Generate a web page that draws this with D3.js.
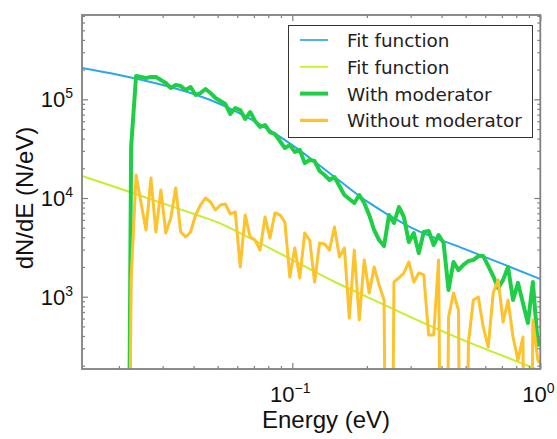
<!DOCTYPE html>
<html><head><meta charset="utf-8">
<script src="https://cdn.jsdelivr.net/npm/d3@7"></script>
<style>body{margin:0;background:#fff}svg{display:block}</style>
</head><body><svg id="c" width="557" height="439"></svg>
<script>
// Energy bins (eV)
const energy = [0.02138,0.02239,0.02344,0.02455,0.02570,0.02692,0.02818,0.02951,0.03090,0.03236,
0.03388,0.03548,0.03715,0.03890,0.04074,0.04266,0.04467,0.04677,0.04898,0.05129,
0.05370,0.05623,0.05888,0.06166,0.06457,0.06761,0.07079,0.07413,0.07762,0.08128,
0.08511,0.08913,0.09333,0.09772,0.1023,0.1072,0.1122,0.1175,0.1230,0.1288,
0.1349,0.1413,0.1479,0.1549,0.1622,0.1698,0.1778,0.1862,0.1950,0.2042,
0.2138,0.2239,0.2344,0.2455,0.2570,0.2692,0.2818,0.2951,0.3090,0.3236,
0.3388,0.3548,0.3715,0.3890,0.4074,0.4266,0.4467,0.4677,0.4898,0.5129,
0.5370,0.5623,0.5888,0.6166,0.6457,0.6761,0.7079,0.7413,0.7762,0.8128,
0.8511,0.8913,0.9333,0.9772,1.023];
// dN/dE with moderator
const withModerator = [0,3.29e4,1.722e5,1.682e5,1.644e5,1.682e5,1.682e5,1.568e5,1.463e5,1.302e5,
1.396e5,1.364e5,1.243e5,1.332e5,1.106e5,1.158e5,1.272e5,1.158e5,1.031e5,9.61e4,
8.96e4,7.10e4,8.16e4,7.79e4,6.32e4,7.43e4,6.03e4,5.24e4,5.49e4,4.66e4,
4.45e4,3.78e4,3.21e4,3.44e4,2.93e4,3.07e4,2.26e4,2.43e4,2.37e4,1.878e4,
1.711e4,1.522e4,1.632e4,1.323e4,1.073e4,9.77e3,8.90e3,1.073e4,8.90e3,6.73e3,
4.74e3,3.75e3,3.26e3,6.73e3,5.58e3,8.11e3,6.42e3,3.58e3,4.42e3,2.77e3,
4.52e3,4.63e3,3.34e3,4.22e3,3.50e3,1.17e3,2.25e3,1.86e3,2.10e3,2.30e3,
2.35e3,2.58e3,2.58e3,2.05e3,1.62e3,1.22e3,1.48e3,2.00e3,926,1.38e3,
863,541,1.41e3,324,391];
// dN/dE without moderator
const withoutModerator = [0,1.48e3,1.711e4,8.90e3,4.74e3,1.594e4,4.52e3,1.205e4,4.42e3,6.27e3,
1.263e4,4.52e3,4.03e3,4.52e3,6.73e3,8.50e3,1.000e4,9.11e3,7.56e3,8.50e3,
8.70e3,6.88e3,7.22e3,2.00e3,6.73e3,4.03e3,3.75e3,2.97e3,6.42e3,3.93e3,
7.05e3,6.73e3,5.71e3,1.58e3,3.11e3,1.55e3,4.42e3,3.75e3,1.41e3,3.50e3,
3.42e3,2.97e3,5.08e3,2.52e3,3.11e3,608,2.97e3,581,2.35e3,1.09e3,
2.00e3,1.31e3,926,0,1.41e3,1.55e3,1.74e3,2.25e3,1.41e3,1.74e3,
1.66e3,409,409,2.35e3,0,623,1.09e3,733,0,340,
926,993,493,309,1.09e3,1.48e3,554,926,391,228,
391,0,581,228,194];
// Fit curves
const fitEnergy = [0.01419,0.02,0.03,0.04,0.05,0.07,0.1,0.15,0.2,0.3,0.5,0.7,1.0];
const fitWith = [2.075e5,1.763e5,1.396e5,1.132e5,9.17e4,6.03e4,3.44e4,1.594e4,9.24e3,5.05e3,3.02e3,2.16e3,1.511e3];
const fitWithout = [1.671e4,1.254e4,8.82e3,6.92e3,5.66e3,3.75e3,2.36e3,1.393e3,998,621,355,254,178];
const xMajorTicks = [0.1, 1];
const xTickExp = ["\u22121", "0"];
const yMajorTicks = [1e3, 1e4, 1e5];
const yTickExp = ["3", "4", "5"];
const legendLabels = ["Fit function", "Fit function", "With moderator", "Without moderator"];
const colors = ["#2aa7e8", "#c4ef2c", "#1ecf45", "#fdc22c"];
const widths = [2, 2, 4, 3];

const svg = d3.select("#c");
svg.append("rect").attr("width",557).attr("height",439).attr("fill","#fff");
const L = 82, R = 540.3, T = 15, B = 369;
const x = d3.scaleLog().domain([0.01419, 1]).range([L, R]);
const y = d3.scaleLog().domain([185.1, 7.15e5]).range([B, T]);

svg.append("clipPath").attr("id","clip").append("rect")
  .attr("x",L).attr("y",T).attr("width",R-L).attr("height",B-T);
const plot = svg.append("g").attr("clip-path","url(#clip)");

const clipV = v => v > 0 ? v : 1e-3;
const lineSmooth = d3.line().x(d => x(d[0])).y(d => y(d[1])).curve(d3.curveMonotoneX);
const lineData = d3.line().x(d => x(d[0])).y(d => y(clipV(d[1])));

plot.append("path").datum(d3.zip(fitEnergy, fitWith)).attr("d", lineSmooth)
  .attr("fill","none").attr("stroke",colors[0]).attr("stroke-width",widths[0]);
plot.append("path").datum(d3.zip(fitEnergy, fitWithout)).attr("d", lineSmooth)
  .attr("fill","none").attr("stroke",colors[1]).attr("stroke-width",widths[1]);
plot.append("path").datum(d3.zip(energy, withModerator)).attr("d", lineData)
  .attr("fill","none").attr("stroke",colors[2]).attr("stroke-width",widths[2]).attr("stroke-linejoin","round");
plot.append("path").datum(d3.zip(energy, withoutModerator)).attr("d", lineData)
  .attr("fill","none").attr("stroke",colors[3]).attr("stroke-width",widths[3]).attr("stroke-linejoin","round");

// ticks (inward, all four sides)
const isMajor = v => Math.abs(Math.log10(v) - Math.round(Math.log10(v))) < 1e-6;
const xMinor = x.ticks().filter(v => !isMajor(v));
const yMinor = y.ticks().filter(v => !isMajor(v));
const tickColor = "#808080";
function addAxis(gen, tx, ty){
  const g = svg.append("g").attr("transform",`translate(${tx},${ty})`).call(gen);
  g.select(".domain").remove();
  g.selectAll("line").attr("stroke",tickColor).attr("stroke-width",1.2);
  g.selectAll("text").remove();
}
[[xMinor,3],[xMajorTicks,6]].forEach(([tv,s])=>{
  addAxis(d3.axisBottom(x).tickValues(tv).tickSize(-s).tickFormat(""),0,B);
  addAxis(d3.axisTop(x).tickValues(tv).tickSize(-s).tickFormat(""),0,T);
});
[[yMinor,3],[yMajorTicks,6]].forEach(([tv,s])=>{
  addAxis(d3.axisLeft(y).tickValues(tv).tickSize(-s).tickFormat(""),L,0);
  addAxis(d3.axisRight(y).tickValues(tv).tickSize(-s).tickFormat(""),R,0);
});

// frame
svg.append("rect").attr("x",L).attr("y",T).attr("width",R-L).attr("height",B-T)
  .attr("fill","none").attr("stroke",tickColor).attr("stroke-width",1.8);

// tick labels
const font = "Liberation Sans, Arial, sans-serif";
xMajorTicks.forEach((v,i)=>{
  const t = svg.append("text").attr("x",x(v)-2).attr("y",402).attr("text-anchor","middle")
    .attr("font-family",font).attr("font-size",22).attr("fill","#111");
  t.append("tspan").text("10");
  t.append("tspan").attr("dy",-9).attr("font-size",14).text(xTickExp[i]);
});
yMajorTicks.forEach((v,i)=>{
  const t = svg.append("text").attr("x",73).attr("y",y(v)+8).attr("text-anchor","end")
    .attr("font-family",font).attr("font-size",22).attr("fill","#111");
  t.append("tspan").text("10");
  t.append("tspan").attr("dy",-9).attr("font-size",14).text(yTickExp[i]);
});

// axis titles
svg.append("text").attr("x",326).attr("y",428).attr("text-anchor","middle")
  .attr("font-family",font).attr("font-size",24).attr("fill","#111").text("Energy (eV)");
svg.append("text").attr("transform","translate(33,198) rotate(-90)").attr("text-anchor","middle")
  .attr("font-family",font).attr("font-size",24).attr("fill","#111").text("dN/dE (N/eV)");

// legend
const lg = svg.append("g");
lg.append("rect").attr("x",288.5).attr("y",25.5).attr("width",244).attr("height",112)
  .attr("fill","#fff").attr("stroke","#333").attr("stroke-width",1);
const lw = [1.7, 1.7, 4, 3.3];
legendLabels.forEach((lab,i)=>{
  const ry = 40 + i*26.8;
  lg.append("line").attr("x1",300).attr("x2",328).attr("y1",ry).attr("y2",ry)
    .attr("stroke",colors[i]).attr("stroke-width",lw[i]);
  lg.append("text").attr("x",347).attr("y",ry+7).attr("font-family","DejaVu Sans, sans-serif")
    .attr("font-size",18.4).attr("fill","#222").text(lab);
});
</script></body></html>
